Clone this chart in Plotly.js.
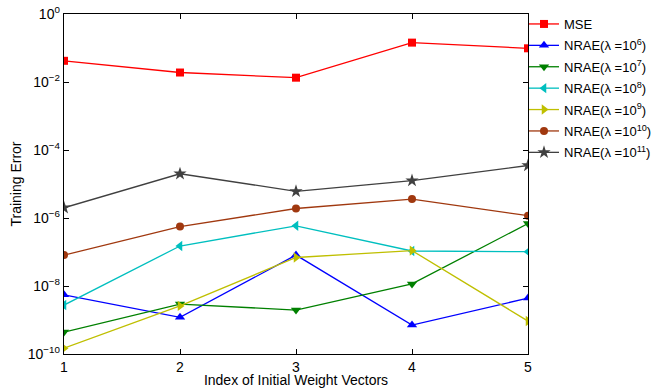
<!DOCTYPE html>
<html><head><meta charset="utf-8">
<script src="https://cdn.plot.ly/plotly-3.0.1.min.js"></script>
<style>html,body{margin:0;padding:0;background:#fff}</style>
</head><body>
<div id="chart" style="width:654px;height:388px"></div>
<script>
var xIdx = [1, 2, 3, 4, 5];
var mse     = [0.042, 0.019, 0.0134, 0.144, 0.098];
var nrae6   = [5.5e-9, 1.2e-9, 8.1e-8, 7.1e-10, 4.4e-9];
var nrae7   = [4.4e-10, 2.95e-9, 1.96e-9, 1.15e-8, 6.9e-7];
var nrae8   = [2.75e-9, 1.5e-7, 5.9e-7, 1.07e-7, 1.02e-7];
var nrae9   = [1.48e-10, 2.6e-9, 6.9e-8, 1.1e-7, 9.3e-10];
var nrae10  = [8.1e-8, 5.6e-7, 1.9e-6, 3.6e-6, 1.17e-6];
var nrae11  = [2.0e-6, 2.0e-5, 6.1e-6, 1.26e-5, 3.5e-5];
var seriesNames = ['MSE', 'NRAE(λ =10<sup>6</sup>)', 'NRAE(λ =10<sup>7</sup>)', 'NRAE(λ =10<sup>8</sup>)',
                   'NRAE(λ =10<sup>9</sup>)', 'NRAE(λ =10<sup>10</sup>)', 'NRAE(λ =10<sup>11</sup>)'];
var yTickVals = [1e-10, 1e-8, 1e-6, 1e-4, 1e-2, 1];
var yTickText = ['10<sup>−10</sup>', '10<sup>−8</sup>', '10<sup>−6</sup>', '10<sup>−4</sup>', '10<sup>−2</sup>', '10<sup>0</sup>'];

var data = [mse, nrae6, nrae7, nrae8, nrae9, nrae10, nrae11];
var colors = ['#ff0000', '#0000ff', '#008000', '#00bfbf', '#bfbf00', '#a0380f', '#404040'];
var symbols = ['square', 'triangle-up', 'triangle-down', 'triangle-left', 'triangle-right', 'circle', 'star'];
var sizes = [8, 9, 9, 9, 9, 8, 10];

var traces = data.map(function (d, i) {
  return {
    x: xIdx, y: d, type: 'scatter', mode: 'lines+markers', name: seriesNames[i],
    legendgroup: 'g' + i,
    line: {color: colors[i], width: 1.3},
    marker: {color: colors[i], symbol: symbols[i], size: sizes[i], line: {width: 0}}
  };
});

var font = {family: 'Liberation Sans, Arial, Helvetica, sans-serif', size: 14, color: '#000'};
var layout = {
  width: 654, height: 388,
  margin: {l: 64, r: 126, t: 14, b: 34, autoexpand: false},
  paper_bgcolor: '#fff', plot_bgcolor: '#fff',
  font: font,
  showlegend: true,
  legend: {xref: 'container', yref: 'container', x: 524 / 654, y: 1 - 9 / 388, xanchor: 'left', yanchor: 'top',
           font: {family: font.family, size: 13}, bgcolor: 'rgba(0,0,0,0)', itemwidth: 30, tracegroupgap: 1.5},
  xaxis: {
    range: [1, 5], tickvals: xIdx, ticktext: xIdx.map(String),
    ticks: 'inside', ticklen: 5, tickcolor: '#000', showline: true, linecolor: '#000', linewidth: 1.3,
    mirror: 'ticks', showgrid: false, zeroline: false,
    title: {text: 'Index of Initial Weight Vectors', standoff: 1, font: {size: 14}}
  },
  yaxis: {
    type: 'log', range: [-10, 0], tickvals: yTickVals, ticktext: yTickText,
    ticks: 'inside', ticklen: 5, tickcolor: '#000', showline: true, linecolor: '#000', linewidth: 1.3,
    mirror: 'ticks', showgrid: false, zeroline: false,
    title: {text: 'Training Error', standoff: 2, font: {size: 14}}
  }
};
Plotly.newPlot('chart', traces, layout, {staticPlot: true, displayModeBar: false});
</script>
</body></html>
